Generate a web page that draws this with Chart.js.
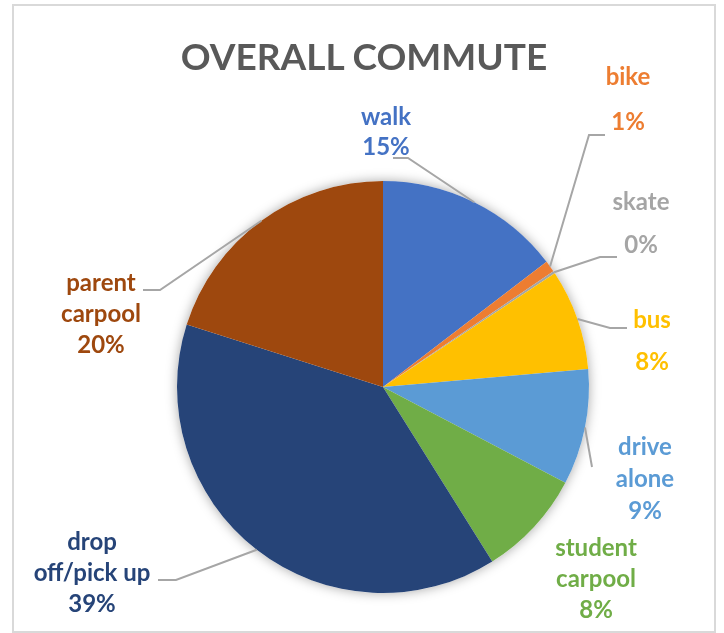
<!DOCTYPE html>
<html>
<head>
<meta charset="utf-8">
<script src="https://cdn.jsdelivr.net/npm/chart.js@4/dist/chart.umd.min.js"></script>
<style>
  body { margin: 0; background: #fff; }
  #wrap { position: relative; width: 724px; height: 633px; overflow: hidden; }
  #frame { position: absolute; left: 12px; top: 4px; width: 704px; height: 629px; box-sizing: border-box; border: 2px solid #d9d9d9; }
  #title { position: absolute; left: 0; top: 37px; width: 728px; text-align: center; font: bold 37px Lato, sans-serif; line-height: 37px; color: #595959; }
  canvas { position: absolute; left: 0; top: 0; }
</style>
</head>
<body>
<div id="wrap">
  <div id="frame"></div>
  <canvas id="pie-chart" width="724" height="633"></canvas>
  <div id="title">OVERALL COMMUTE</div>
</div>
<script>
// data (shares in %)
const categories = [['walk'], ['bike'], ['skate'], ['bus'], ['drive', 'alone'], ['student', 'carpool'], ['drop', 'off/pick up'], ['parent', 'carpool']];
const shares = [14.6, 0.9, 0.2, 7.9, 9.1, 8.4, 38.8, 20.1];
const sliceColors = ['#4472C4', '#ED7D31', '#A5A5A5', '#FFC000', '#5B9BD5', '#70AD47', '#264478', '#9E480E'];

// label placement, relative to the pie centre: block centre, line step, leader elbow + end
const labelLayout = [
  { dx: 3, dy: -255, step: 30, leader: [[25, -229], [10, -229]] },
  { dx: 245, dy: -287, step: 45, leader: [[206, -252], [222, -252]] },
  { dx: 258, dy: -163, step: 43, leader: [[217, -130], [234, -130]] },
  { dx: 269, dy: -46, step: 42, leader: [[227, -59], [244, -59]] },
  { dx: 262, dy: 92, step: 32, leader: [[209, 80]] },
  { dx: 213, dy: 192, step: 31, leader: null },
  { dx: -291, dy: 186, step: 31, leader: [[-207, 193], [-225, 193]] },
  { dx: -282, dy: -73, step: 31, leader: [[-223, -97], [-240, -97]] },
];

const total = shares.reduce((a, b) => a + b, 0);

const pieShadow = {
  id: 'pieShadow',
  beforeDatasetsDraw(chart) {
    const arc = chart.getDatasetMeta(0).data[0];
    if (!arc) return;
    const { x, y, outerRadius } = arc.getProps(['x', 'y', 'outerRadius'], true);
    const ctx = chart.ctx;
    ctx.save();
    ctx.shadowColor = 'rgba(0,0,0,0.35)';
    ctx.shadowBlur = 12;
    ctx.fillStyle = '#fff';
    ctx.beginPath();
    ctx.arc(x, y, outerRadius, 0, Math.PI * 2);
    ctx.fill();
    ctx.restore();
  }
};

const outsideLabels = {
  id: 'outsideLabels',
  afterDatasetsDraw(chart) {
    const ctx = chart.ctx;
    const meta = chart.getDatasetMeta(0);
    meta.data.forEach((arc, i) => {
      const p = arc.getProps(['x', 'y', 'startAngle', 'endAngle', 'outerRadius'], true);
      const lay = labelLayout[i];
      const mid = (p.startAngle + p.endAngle) / 2;

      if (lay.leader) {
        ctx.save();
        ctx.strokeStyle = '#a6a6a6';
        ctx.lineWidth = 2;
        ctx.beginPath();
        ctx.moveTo(p.x + Math.cos(mid) * p.outerRadius, p.y + Math.sin(mid) * p.outerRadius);
        lay.leader.forEach(pt => ctx.lineTo(p.x + pt[0], p.y + pt[1]));
        ctx.stroke();
        ctx.restore();
      }

      const lines = categories[i].concat(Math.round(shares[i] / total * 100) + '%');
      ctx.save();
      ctx.font = 'bold 24px Lato, sans-serif';
      ctx.fillStyle = sliceColors[i];
      ctx.textAlign = 'center';
      ctx.textBaseline = 'middle';
      lines.forEach((t, k) => {
        const ly = p.y + lay.dy + (k - (lines.length - 1) / 2) * lay.step;
        ctx.fillText(t, p.x + lay.dx, ly);
      });
      ctx.restore();
    });
  }
};

const ctx = document.getElementById('pie-chart').getContext('2d');
new Chart(ctx, {
  type: 'pie',
  data: {
    labels: categories.map(c => c.join(' ')),
    datasets: [
      {
        data: shares,
        backgroundColor: sliceColors,
        borderWidth: 0,
      },
    ],
  },
  options: {
    responsive: false,
    animation: false,
    devicePixelRatio: 1,
    radius: 206,
    layout: { padding: { left: 42, right: 0, top: 141, bottom: 0 } },
    plugins: {
      legend: { display: false },
      title: { display: false },
      tooltip: { enabled: false },
    },
  },
  plugins: [pieShadow, outsideLabels],
});
</script>
</body>
</html>
